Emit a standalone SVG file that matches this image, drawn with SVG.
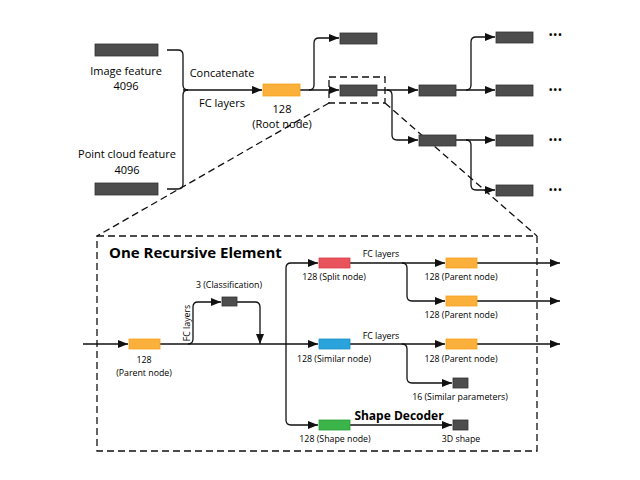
<svg xmlns="http://www.w3.org/2000/svg" width="640" height="480" viewBox="0 0 640 480">
<style>
text{font-family:"Open Sans","Noto Sans","Liberation Sans",sans-serif;fill:#000;}
.lbl{font-size:11px;text-anchor:middle;}
.sm{font-size:8.8px;text-anchor:middle;}
.b{font-weight:bold;}
.dots{font-size:9px;font-weight:bold;letter-spacing:1.2px;}
.c{fill:none;stroke:#111;stroke-width:1.3;}
.d{fill:none;stroke:#111;stroke-width:1.3;stroke-dasharray:7,4;}
.g{fill:#4d4d4d;stroke:#333;stroke-width:0.8;}
.o{fill:#fbb03b;stroke:#f7a21a;stroke-width:0.8;}
.r{fill:#e9535b;stroke:#d63c45;stroke-width:0.8;}
.bl{fill:#2aa3dc;stroke:#1d8fc4;stroke-width:0.8;}
.gr{fill:#3bb54a;stroke:#2a9c38;stroke-width:0.8;}
</style>
<defs>
<marker id="ah" markerUnits="userSpaceOnUse" markerWidth="10" markerHeight="10" viewBox="0 0 10 10" refX="10" refY="5" orient="auto">
<path d="M0,1 L10,5 L0,9 Z" fill="#111"/>
</marker>
</defs>
<rect width="640" height="480" fill="#fff"/>

<g id="connectors">
<path class="c" d="M167,50 H178 Q183,50 183,55 V85 Q183,90 188,90"/>
<path class="c" d="M167,189 H178 Q183,189 183,184 V95 Q183,90 188,90"/>
<path class="c" d="M183,90 H262" marker-end="url(#ah)"/>
<path class="c" d="M300,90 H339" marker-end="url(#ah)"/>
<path class="c" d="M309,90 Q314,90 314,85 V43 Q314,38 319,38 H339" marker-end="url(#ah)"/>
<path class="c" d="M377,90 H418" marker-end="url(#ah)"/>
<path class="c" d="M387,90 Q392,90 392,95 V135 Q392,140 397,140 H418" marker-end="url(#ah)"/>
<path class="c" d="M456,90 H495" marker-end="url(#ah)"/>
<path class="c" d="M466,90 Q471,90 471,85 V42 Q471,37 476,37 H495" marker-end="url(#ah)"/>
<path class="c" d="M456,140 H495" marker-end="url(#ah)"/>
<path class="c" d="M466,140 Q471,140 471,145 V185 Q471,190 476,190 H495" marker-end="url(#ah)"/>
<rect class="d" x="329" y="77" width="56" height="26"/>
<path class="d" d="M329,103 L97,236"/>
<path class="d" d="M385,103 L537,236"/>
<rect class="d" x="97" y="236" width="440" height="215"/>

<path class="c" d="M83,344 H128" marker-end="url(#ah)"/>
<path class="c" d="M160,344 H318" marker-end="url(#ah)"/>
<path class="c" d="M188,344 Q193,344 193,339 V307 Q193,302 198,302 H221" marker-end="url(#ah)"/>
<path class="c" d="M237,302 H255 Q260,302 260,307 V344" marker-end="url(#ah)"/>
<path class="c" d="M286,344 V268 Q286,263 291,263 H318" marker-end="url(#ah)"/>
<path class="c" d="M286,344 V420 Q286,425 291,425 H318" marker-end="url(#ah)"/>
<path class="c" d="M350,263 H445" marker-end="url(#ah)"/>
<path class="c" d="M402,263 Q407,263 407,268 V296 Q407,301 412,301 H445" marker-end="url(#ah)"/>
<path class="c" d="M477,263 H560" marker-end="url(#ah)"/>
<path class="c" d="M477,301 H560" marker-end="url(#ah)"/>
<path class="c" d="M350,344 H445" marker-end="url(#ah)"/>
<path class="c" d="M402,344 Q407,344 407,349 V378 Q407,383 412,383 H452" marker-end="url(#ah)"/>
<path class="c" d="M477,344 H560" marker-end="url(#ah)"/>
<path class="c" d="M350,425 H452" marker-end="url(#ah)"/>
</g>

<g id="image-feature"><rect class="g" x="95" y="44" width="63" height="12"/><text class="lbl" x="126" y="75">Image feature</text><text class="lbl" x="126" y="90">4096</text></g>
<g id="pointcloud-feature"><rect class="g" x="95" y="183" width="63" height="12"/><text class="lbl" x="127" y="158">Point cloud feature</text><text class="lbl" x="127" y="174">4096</text></g>
<g id="concat-label"><text class="lbl" x="222" y="77">Concatenate</text><text class="lbl" x="222" y="107">FC layers</text></g>
<g id="root-node"><rect class="o" x="263" y="84" width="37" height="12"/><text class="lbl" x="282" y="113">128</text><text class="lbl" x="282" y="128">(Root node)</text></g>
<g id="t1"><rect class="g" x="340" y="33" width="37" height="11"/></g>
<g id="t2"><rect class="g" x="340" y="85" width="37" height="11"/></g>
<g id="t3"><rect class="g" x="419" y="85" width="37" height="11"/></g>
<g id="t4"><rect class="g" x="419" y="135" width="37" height="11"/></g>
<g id="t5"><rect class="g" x="496" y="32" width="37" height="11"/><text class="dots" x="549" y="38">•••</text></g>
<g id="t6"><rect class="g" x="496" y="85" width="37" height="11"/><text class="dots" x="549" y="93">•••</text></g>
<g id="t7"><rect class="g" x="496" y="135" width="37" height="11"/><text class="dots" x="549" y="143">•••</text></g>
<g id="t8"><rect class="g" x="496" y="185" width="37" height="11"/><text class="dots" x="549" y="193">•••</text></g>

<g id="title"><text class="b" x="109" y="258" font-size="15">One Recursive Element</text></g>
<g id="parent-in"><rect class="o" x="129" y="339" width="31" height="10"/><text class="sm" x="144" y="363">128</text><text class="sm" x="144" y="376">(Parent node)</text></g>
<g id="fc-rot"><text class="sm" transform="translate(190,323) rotate(-90)">FC layers</text></g>
<g id="classification"><rect class="g" x="222" y="297" width="15" height="9"/><text class="sm" x="229" y="288">3 (Classification)</text></g>
<g id="split-node"><rect class="r" x="319" y="258" width="31" height="10"/><text class="sm" x="334" y="280">128 (Split node)</text><text class="sm" x="381" y="257">FC layers</text></g>
<g id="parent-a"><rect class="o" x="446" y="258" width="31" height="10"/><text class="sm" x="461" y="280">128 (Parent node)</text></g>
<g id="parent-b"><rect class="o" x="446" y="296" width="31" height="10"/><text class="sm" x="461" y="318">128 (Parent node)</text></g>
<g id="similar-node"><rect class="bl" x="319" y="339" width="31" height="10"/><text class="sm" x="334" y="362">128 (Similar node)</text><text class="sm" x="381" y="339">FC layers</text></g>
<g id="parent-c"><rect class="o" x="446" y="339" width="31" height="10"/><text class="sm" x="461" y="362">128 (Parent node)</text></g>
<g id="similar-params"><rect class="g" x="453" y="378" width="15" height="10"/><text class="sm" x="460" y="400">16 (Similar parameters)</text></g>
<g id="shape-node"><rect class="gr" x="319" y="420" width="31" height="10"/><text class="sm" x="335" y="442">128 (Shape node)</text><text class="b" x="399" y="420" font-size="12" text-anchor="middle">Shape Decoder</text></g>
<g id="shape-3d"><rect class="g" x="453" y="420" width="15" height="10"/><text class="sm" x="461" y="442">3D shape</text></g>
</svg>
